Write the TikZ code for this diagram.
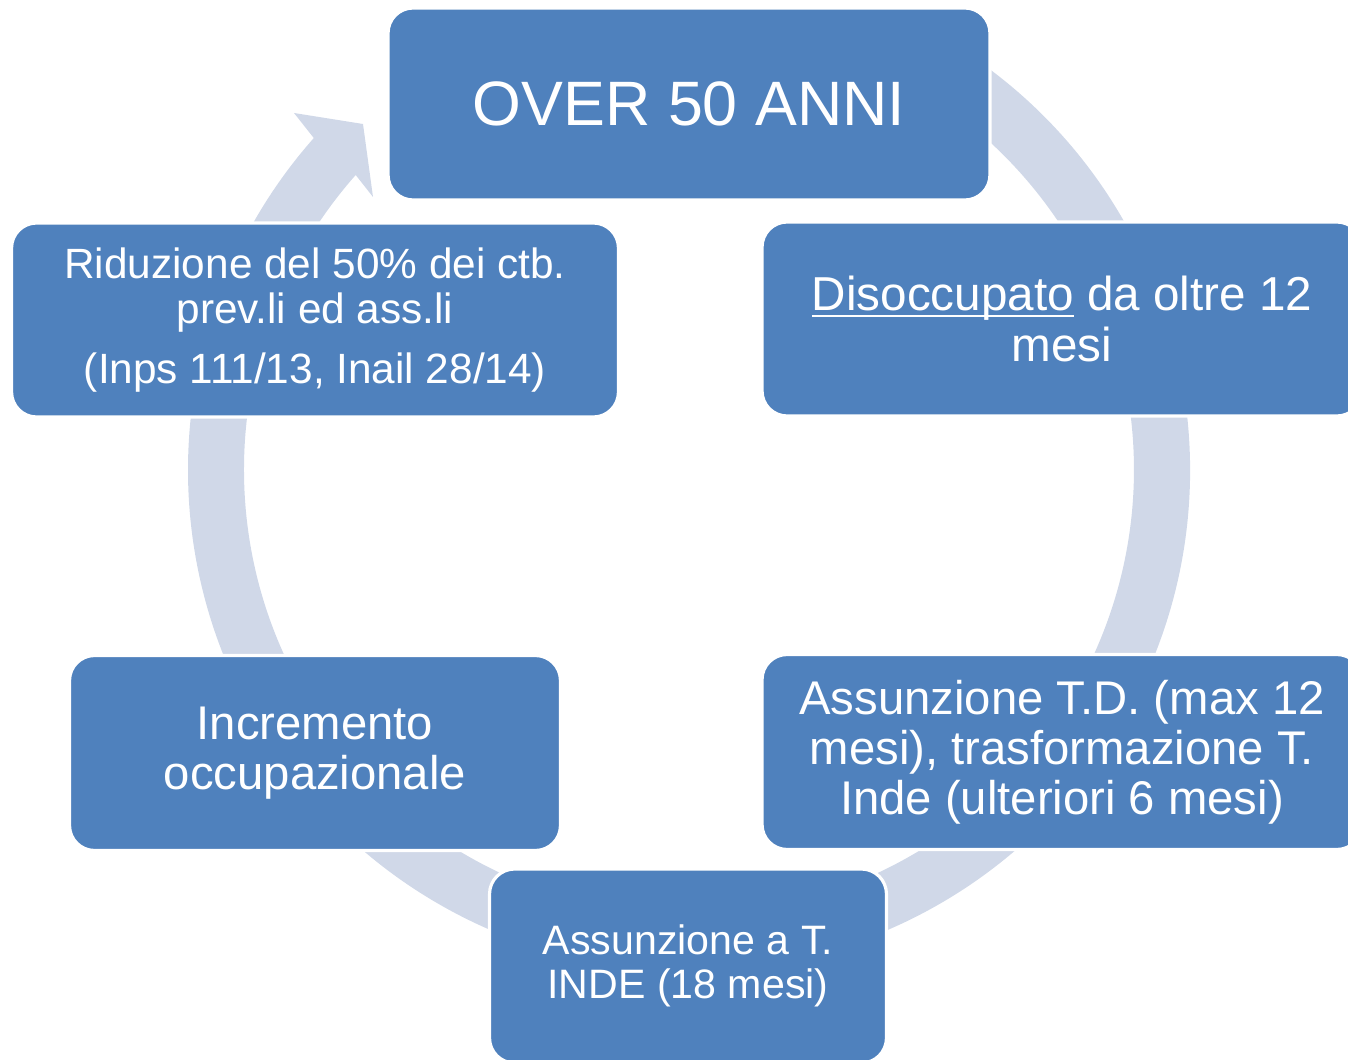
\documentclass[tikz,border=0pt]{standalone}
\usepackage{fontspec}
\setmainfont{Liberation Sans}
\definecolor{boxblue}{HTML}{4F81BD}
\definecolor{ringgrey}{HTML}{D0D8E8}
\newcommand{\fsz}[1]{\fontsize{#1pt}{1.06\dimexpr#1pt\relax}\selectfont}
\newcommand{\undl}[1]{\setbox0\hbox{#1}\rlap{\rule[-0.14em]{\wd0}{0.06em}}#1}

\begin{document}
\begin{tikzpicture}[x=0.02cm, y=-0.02cm,
  cyclebox/.style={rectangle, rounded corners=0.5cm, fill=boxblue, draw=white,
    line width=1.8pt, text=white, align=center, inner sep=0pt,
    minimum height=3.88cm}]
%\draw [help lines] (0,0) grid (1348,1060);
\useasboundingbox (0,0) rectangle (1348,1060);
\clip (0,0) rectangle (1348,1060);

% ring with arrow head
\fill [ringgrey] (689,470) ++(-60:501) arc [start angle=-60, end angle=221.5, radius=501]
  -- (294,113) -- (363,124) -- (373,197) -- (355.7,175)
  arc [start angle=221.5, end angle=-60, radius=445] -- cycle;

\node [cyclebox, minimum width=12.04cm, minimum height=3.84cm, font=\fsz{35.7}] (over) at (689,104)
  {OVER 50 ANNI};
\node [cyclebox, minimum width=12cm, font=\fsz{27.1}] (disocc) at (1062,319)
  {\undl{Disoccupato} da oltre 12\\ mesi};
\node [cyclebox, minimum width=12cm, minimum height=3.9cm, font=\fsz{26.9}] (assunzTD) at (1062,752)
  {Assunzione T.D. (max 12\\ mesi), trasformazione T.\\ Inde (ulteriori 6 mesi)};
\node [cyclebox, minimum width=7.94cm, font=\fsz{23.4}] (assunzIND) at (688,966)
  {Assunzione a T.\\ INDE (18 mesi)};
\node [cyclebox, minimum width=9.82cm, minimum height=3.9cm, font=\fsz{26.9}] (incr) at (315,753)
  {Incremento\\ occupazionale};
\node [cyclebox, minimum width=12.14cm, font=\fsz{24.1}] (riduz) at (315,320)
  {Riduzione del 50\% dei ctb.\\ prev.li ed ass.li\\[0.3cm] (Inps 111/13, Inail 28/14)};

\end{tikzpicture}
\end{document}
